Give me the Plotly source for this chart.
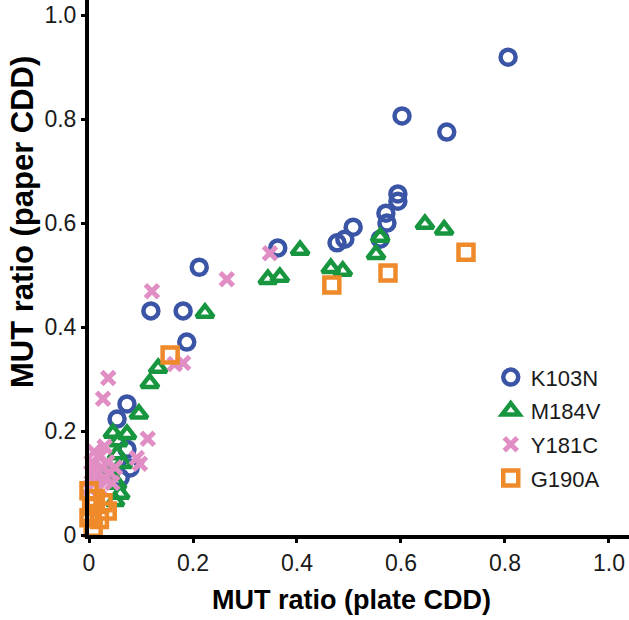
import plotly.graph_objects as go

# K103N (blue circles)
k103n_x = [0.806, 0.602, 0.688, 0.594, 0.594, 0.571, 0.573, 0.560, 0.508, 0.492, 0.477,
           0.363, 0.212, 0.181, 0.119, 0.188, 0.073, 0.054, 0.073, 0.079, 0.060]
k103n_y = [0.919, 0.806, 0.775, 0.656, 0.642, 0.619, 0.600, 0.569, 0.592, 0.569, 0.562,
           0.552, 0.515, 0.431, 0.431, 0.371, 0.252, 0.223, 0.165, 0.129, 0.110]

# M184V (green triangles)
m184v_x = [0.646, 0.683, 0.560, 0.552, 0.406, 0.367, 0.344, 0.465, 0.488, 0.223,
           0.133, 0.117, 0.096, 0.046, 0.073, 0.056, 0.054, 0.065, 0.054, 0.060, 0.050, 0.040]
m184v_y = [0.598, 0.587, 0.573, 0.540, 0.548, 0.496, 0.492, 0.513, 0.508, 0.427,
           0.321, 0.292, 0.233, 0.196, 0.194, 0.180, 0.155, 0.138, 0.098, 0.079, 0.065, 0.120]

# Y181C (pink crosses)
y181c_x = [0.348, 0.265, 0.121, 0.165, 0.181, 0.037, 0.027, 0.113, 0.092, 0.098,
           0.010, 0.020, 0.005, 0.025, 0.015, 0.030, 0.010, 0.020, 0.035, 0.040,
           0.005, 0.030, 0.045, 0.050, 0.000]
y181c_y = [0.542, 0.492, 0.469, 0.329, 0.331, 0.302, 0.262, 0.185, 0.148, 0.137,
           0.160, 0.150, 0.140, 0.130, 0.120, 0.110, 0.100, 0.090, 0.140, 0.120,
           0.120, 0.170, 0.100, 0.130, 0.090]

# G190A (orange squares)
g190a_x = [0.725, 0.575, 0.467, 0.156, 0.000, 0.027, -0.005, 0.035, 0.008, 0.000, 0.012, 0.020, 0.005]
g190a_y = [0.544, 0.504, 0.481, 0.346, 0.085, 0.062, 0.042, 0.046, 0.013, 0.033, 0.070, 0.030, 0.055]

tick_vals = [0, 0.2, 0.4, 0.6, 0.8, 1.0]
tick_text = ["0", "0.2", "0.4", "0.6", "0.8", "1.0"]

x_title = "MUT ratio (plate CDD)"
y_title = "MUT ratio (paper CDD)"

series = [
    ("K103N", k103n_x, k103n_y, "circle-open", "#3B55A6", 15, 4.5),
    ("M184V", m184v_x, m184v_y, "triangle-up-open", "#17963F", 15, 4.5),
    ("Y181C", y181c_x, y181c_y, "x-thin-open", "#E08EC3", 13, 5),
    ("G190A", g190a_x, g190a_y, "square-open", "#EF8A2A", 15, 4.5),
]

FONT = "Liberation Sans, Arial, sans-serif"

fig = go.Figure()
for name, xs, ys, sym, col, size, lw in series:
    fig.add_trace(go.Scatter(
        x=xs, y=ys, mode="markers", name=name, legendgroup=name,
        cliponaxis=False,
        marker=dict(symbol=sym, size=size, color=col, line=dict(color=col, width=lw)),
    ))

axis_common = dict(
    showline=True, linewidth=4, linecolor="black",
    ticks="outside", ticklen=4, tickwidth=3, tickcolor="black",
    showgrid=False, zeroline=False, mirror=False, automargin=False,
    ticklabeloverflow="allow",
    tickvals=tick_vals, ticktext=tick_text,
    tickfont=dict(family=FONT, size=23, color="#1a1a1a"),
)

fig.update_layout(
    width=629, height=620,
    margin=dict(l=89, r=0, t=0, b=85),
    plot_bgcolor="white", paper_bgcolor="white",
    xaxis=dict(range=[0, 1.0385], **axis_common),
    yaxis=dict(range=[0, 1.029], **axis_common),
    legend=dict(x=0.744, y=0.334, xanchor="left", yanchor="top",
                font=dict(family=FONT, size=22, color="#1a1a1a"),
                bgcolor="rgba(0,0,0,0)", tracegroupgap=2, itemwidth=30),
    showlegend=True,
    annotations=[
        dict(text="<b>" + x_title + "</b>", xref="paper", yref="paper",
             x=0.487, y=-0.1215, xanchor="center", yanchor="middle", showarrow=False,
             font=dict(family=FONT, size=27, color="black")),
        dict(text="<b>" + y_title + "</b>", xref="paper", yref="paper",
             x=-0.124, y=0.585, xanchor="center", yanchor="middle", showarrow=False,
             textangle=-90, font=dict(family=FONT, size=31, color="black")),
    ],
)

# remove the default page margin so the 629x620 figure fills the window exactly
fig.write_html(
    "out.html",
    config={"displayModeBar": False},
    post_script="document.body.style.margin='0';document.body.style.overflow='hidden';",
)
